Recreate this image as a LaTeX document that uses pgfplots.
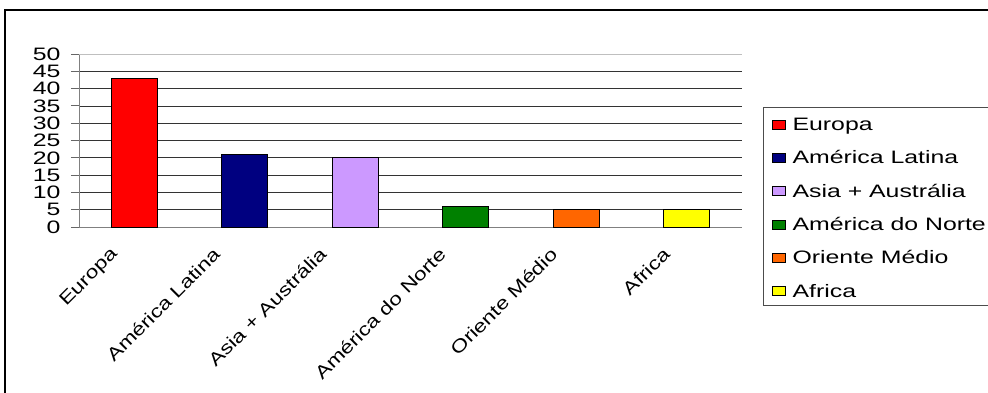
\documentclass[border=0pt]{standalone}
\usepackage{fontspec}
\setmainfont{Liberation Sans}
\newfontfamily\wide{Liberation Sans}[FakeStretch=1.38]
\newfontfamily\widex{Liberation Sans}[FakeStretch=1.26]
\usepackage{pgfplots}
\pgfplotsset{compat=1.18}
\definecolor{c1}{RGB}{255,0,0}
\definecolor{c2}{RGB}{0,0,128}
\definecolor{c3}{RGB}{204,153,255}
\definecolor{c4}{RGB}{0,128,0}
\definecolor{c5}{RGB}{255,102,0}
\definecolor{c6}{RGB}{255,255,0}
\newcommand{\fs}{\wide\fontsize{18}{21}\selectfont}
\newcommand{\fx}{\widex\fontsize{18}{21}\selectfont}
\begin{document}
\begin{tikzpicture}[x=1pt,y=1pt]
\path[use as bounding box] (0,0) rectangle (988,392);
\begin{scope}
\clip (0,0) rectangle (988,392);
\draw[line width=2pt] (5,-5) -- (5,382) -- (995,382);
\draw[line width=1pt, black!70] (763,87) rectangle (1000,285);
\end{scope}
\begin{axis}[
  at={(79pt,165pt)}, anchor=south west,
  scale only axis, width=663pt, height=173pt,
  xmin=-0.5, xmax=5.5, ymin=0, ymax=50,
  ytick={0,5,...,45},
  extra y ticks={50},
  extra y tick style={grid style={black!25, line width=1pt}},
  ymajorgrids,
  grid style={black!80, line width=0.8pt},
  xtick={0,...,5},
  xticklabels={Europa,América Latina,Asia + Austrália,América do Norte,Oriente Médio,Africa},
  x tick label style={xshift={-1pt*{25,33,37,28,27,25,0,0,0,0}[\ticknum]}, yshift=-11pt, rotate=45, anchor=north east, font=\fx, inner sep=0pt},
  y tick label style={font=\fs, xshift=-7pt},
  /pgf/number format/assume math mode=true,
  major x tick style={draw=none},
  extra x ticks={-0.5,0.5,...,5.5},
  extra x tick labels={},
  extra x tick style={grid=none, major tick length=6pt, tick style={draw=black!60, line width=1pt}},
  tick align=outside,
  major tick length=8pt,
  ytick style={draw=black!60, line width=1pt},
  axis x line*=bottom, axis y line*=left,
  axis line style={draw=black!50, line width=1pt, -},
  legend style={at={(1.0452,0.642)}, anchor=north west, draw=none, fill=none,
    font=\fs, row sep=14.6pt, inner sep=0pt, cells={anchor=west}},
  legend image code/.code={\draw[#1, draw=black, line width=0.8pt] (0pt,-4.5pt) rectangle (13pt,4.5pt); \path[draw=none, fill=none] (0pt,0pt) -- (18pt,0pt);},
]
\addplot[ybar, bar shift=0pt, bar width=46pt, fill=c1, draw=black, line width=1pt] coordinates {(0,43)};
\addlegendentry{Europa}
\addplot[ybar, bar shift=0pt, bar width=46pt, fill=c2, draw=black, line width=1pt] coordinates {(1,21)};
\addlegendentry{América Latina}
\addplot[ybar, bar shift=0pt, bar width=46pt, fill=c3, draw=black, line width=1pt] coordinates {(2,20)};
\addlegendentry{Asia + Austrália}
\addplot[ybar, bar shift=0pt, bar width=46pt, fill=c4, draw=black, line width=1pt] coordinates {(3,6)};
\addlegendentry{América do Norte}
\addplot[ybar, bar shift=0pt, bar width=46pt, fill=c5, draw=black, line width=1pt] coordinates {(4,5)};
\addlegendentry{Oriente Médio}
\addplot[ybar, bar shift=0pt, bar width=46pt, fill=c6, draw=black, line width=1pt] coordinates {(5,5)};
\addlegendentry{Africa}
\end{axis}
\end{tikzpicture}
\end{document}
